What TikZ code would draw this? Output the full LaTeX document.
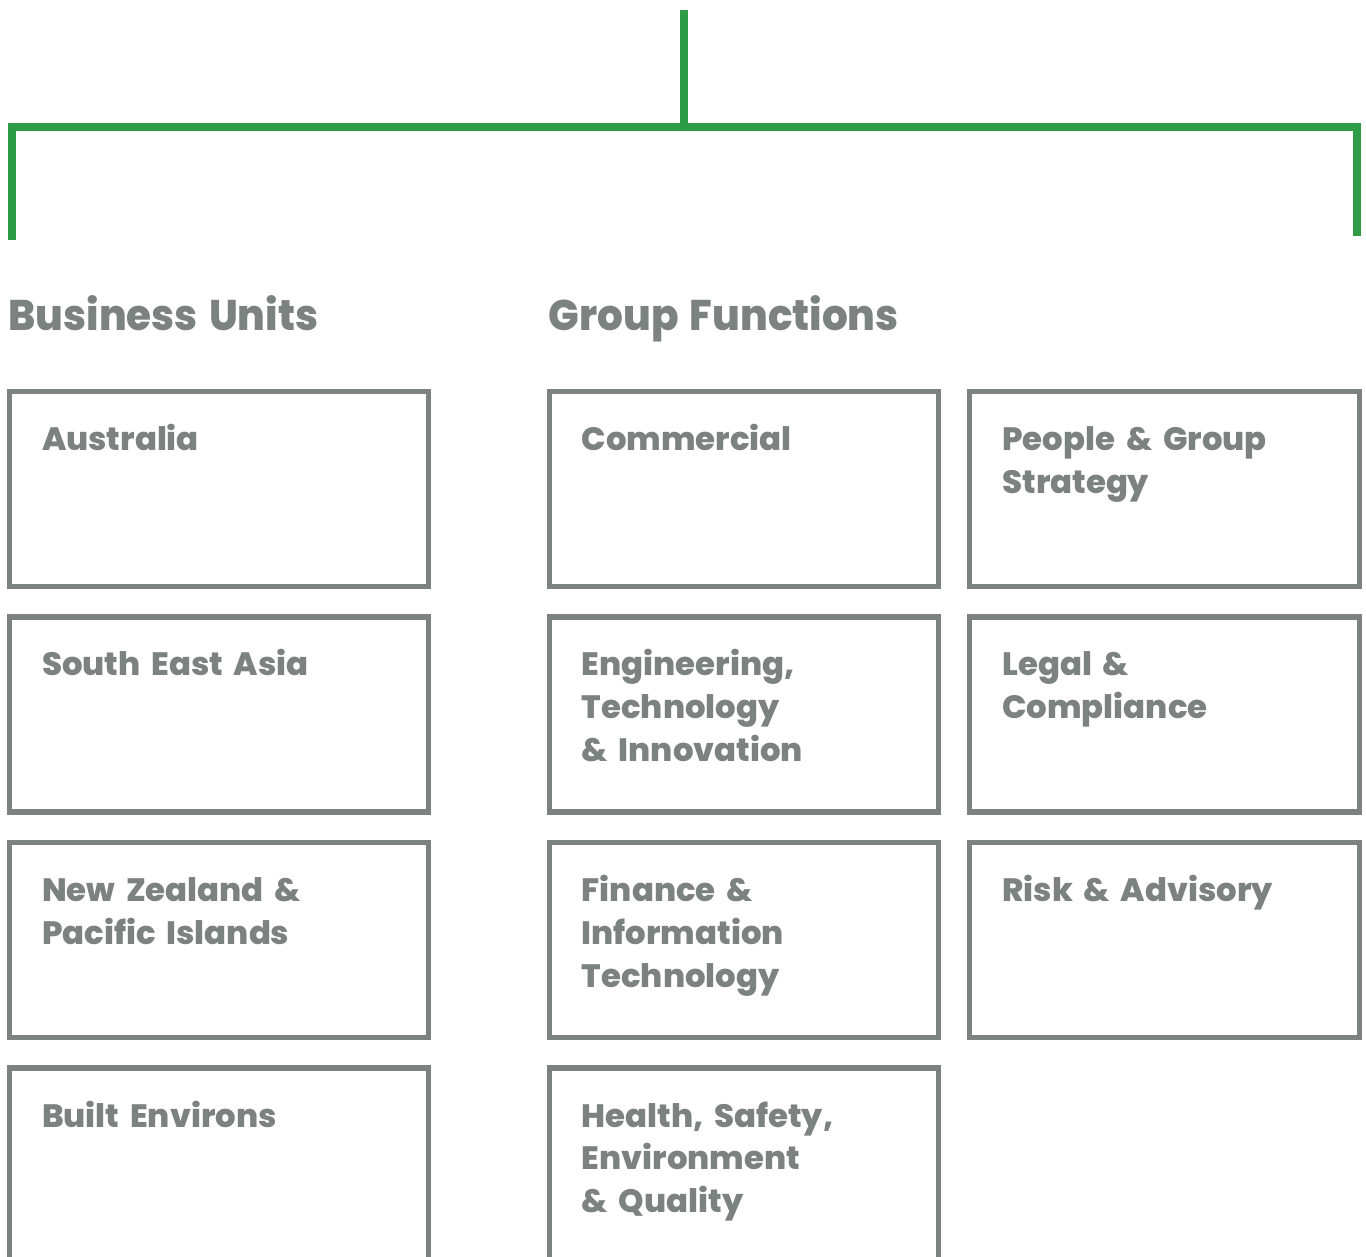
\documentclass[tikz,border=0pt]{standalone}
\usepackage{fontspec}
\setsansfont{Poppins}[BoldFont={Poppins ExtraBold}]
\newfontfamily\headfont{Poppins ExtraBold}[FakeStretch=0.945]
\usetikzlibrary{positioning}

\definecolor{orggreen}{HTML}{2E9C47}
\definecolor{orggrey}{HTML}{7C8280}

\tikzset{
  branch/.style={draw=orggreen, line width=2.3pt},
  unitbox/.style={draw=orggrey, line width=1.45pt, rectangle, outer sep=0pt, inner sep=0pt},
  colbox/.style={unitbox, minimum width=4.192cm, minimum height=1.95cm},
  funcbox/.style={unitbox, minimum width=3.897cm, minimum height=1.95cm},
  boxlabel/.style={anchor=base west, inner sep=0pt, text=orggrey, align=left,
    text width=3.6cm, font={\sffamily\bfseries\fontsize{9.2pt}{12.2pt}\selectfont\spaceskip=0.33em\relax}},
  heading/.style={anchor=base west, inner sep=0pt, text=orggrey,
    font={\headfont\fontsize{12.2pt}{15pt}\selectfont\spaceskip=0.26em\relax}}
}

\begin{document}
\begin{tikzpicture}
\useasboundingbox (0,0) rectangle (13.66,-12.57);
\clip (0,0) rectangle (13.66,-12.57);

\coordinate (root) at (6.843,-0.10);
\coordinate (bar) at (6.843,-1.27);
\coordinate (buend) at (0.117,-2.40);
\coordinate (gfend) at (13.57,-2.36);
\draw[branch] (root) -- (bar);
\draw[branch] (buend) |- (bar) -| (gfend);

\node[heading] (buhead) at (0.08,-3.307) {Business Units};
\node[heading] (gfhead) at (5.48,-3.307) {Group Functions};

\node[colbox] (aus) at (2.189,-4.89) {};
\node[colbox] (sea) at (2.189,-7.145) {};
\node[colbox] (nzpi) at (2.189,-9.40) {};
\node[colbox] (built) at (2.189,-11.655) {};

\node[funcbox] (comm) at (7.439,-4.89) {};
\node[funcbox] (eti) at (7.439,-7.145) {};
\node[funcbox] (fit) at (7.439,-9.40) {};
\node[funcbox] (hseq) at (7.439,-11.655) {};

\node[funcbox] (pgs) at (11.645,-4.89) {};
\node[funcbox] (legal) at (11.645,-7.145) {};
\node[funcbox] (risk) at (11.645,-9.40) {};

\node[boxlabel] at ([shift={(0.32,-0.59)}]aus.north west) {Australia};
\node[boxlabel] at ([shift={(0.32,-0.59)}]sea.north west) {South East Asia};
\node[boxlabel] at ([shift={(0.32,-0.59)}]nzpi.north west) {New Zealand \&\\Pacific Islands};
\node[boxlabel] at ([shift={(0.32,-0.59)}]built.north west) {Built Environs};

\node[boxlabel] at ([shift={(0.32,-0.59)}]comm.north west) {Commercial};
\node[boxlabel] at ([shift={(0.32,-0.59)}]eti.north west) {Engineering,\\Technology\\\& Innovation};
\node[boxlabel] at ([shift={(0.32,-0.59)}]fit.north west) {Finance \&\\Information\\Technology};
\node[boxlabel] at ([shift={(0.32,-0.59)}]hseq.north west) {Health, Safety,\\Environment\\\& Quality};

\node[boxlabel] at ([shift={(0.32,-0.59)}]pgs.north west) {People \& Group\\Strategy};
\node[boxlabel] at ([shift={(0.32,-0.59)}]legal.north west) {Legal \&\\Compliance};
\node[boxlabel] at ([shift={(0.32,-0.59)}]risk.north west) {Risk \& Advisory};

\end{tikzpicture}
\end{document}
